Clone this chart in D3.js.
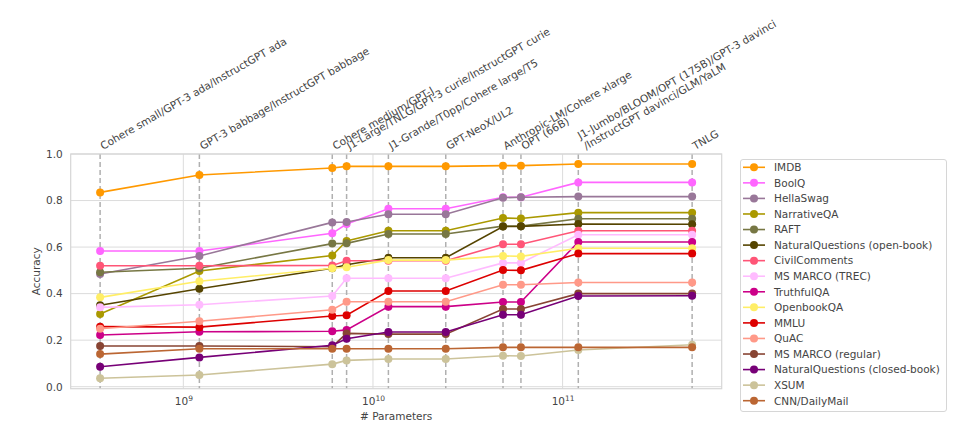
<!DOCTYPE html>
<html>
<head>
<meta charset="utf-8">
<script src="https://cdn.jsdelivr.net/npm/d3@7"></script>
<style>
  html, body { margin: 0; padding: 0; background: #fff; }
  svg { display: block; font-family: "DejaVu Sans", sans-serif; }
</style>
</head>
<body>
<svg id="chart" width="965" height="438"></svg>
<script>
// ---- data ----
const modelSizes = [3.64e8, 1.215e9, 6.1e9, 7.26e9, 1.206e10, 2.42e10, 4.85e10, 6.03e10, 1.21e11, 4.82e11];
const modelLabels = [
  ["Cohere small/GPT-3 ada/InstructGPT ada"],
  ["GPT-3 babbage/InstructGPT babbage"],
  ["Cohere medium/GPT-J"],
  ["J1-Large/TNLG/GPT-3 curie/InstructGPT curie"],
  ["J1-Grande/T0pp/Cohere large/T5"],
  ["GPT-NeoX/UL2"],
  ["Anthropic-LM/Cohere xlarge"],
  ["OPT (66B)"],
  ["J1-Jumbo/BLOOM/OPT (175B)/GPT-3 davinci", "/InstructGPT davinci/GLM/YaLM"],
  ["TNLG"]
];
const seriesNames = ["IMDB", "BoolQ", "HellaSwag", "NarrativeQA", "RAFT", "NaturalQuestions (open-book)",
  "CivilComments", "MS MARCO (TREC)", "TruthfulQA", "OpenbookQA", "MMLU", "QuAC", "MS MARCO (regular)",
  "NaturalQuestions (closed-book)", "XSUM", "CNN/DailyMail"];
const seriesColors = ["#ff9900", "#ff66ff", "#997799", "#aa9900", "#777744", "#554400",
  "#ff5577", "#ffbbff", "#cc0088", "#ffee66", "#dd0000", "#ff9988", "#884433",
  "#770077", "#ccc39a", "#bb6633"];
const imdb        = [0.835, 0.910, 0.940, 0.947, 0.947, 0.947, 0.950, 0.950, 0.957, 0.957];
const boolq       = [0.583, 0.583, 0.659, 0.699, 0.765, 0.765, 0.814, 0.814, 0.878, 0.878];
const hellaswag   = [0.484, 0.562, 0.706, 0.708, 0.741, 0.741, 0.812, 0.814, 0.817, 0.817];
const narrativeqa = [0.312, 0.497, 0.564, 0.626, 0.670, 0.670, 0.725, 0.723, 0.748, 0.748];
const raft        = [0.492, 0.509, 0.615, 0.616, 0.656, 0.656, 0.690, 0.690, 0.722, 0.722];
const nqOpen      = [0.350, 0.421, 0.509, 0.524, 0.554, 0.554, 0.688, 0.689, 0.699, 0.698];
const civil       = [0.520, 0.520, 0.521, 0.541, 0.541, 0.541, 0.612, 0.612, 0.670, 0.670];
const msmarcoTrec = [0.341, 0.352, 0.390, 0.466, 0.466, 0.466, 0.532, 0.532, 0.653, 0.653];
const truthfulqa  = [0.222, 0.236, 0.238, 0.244, 0.344, 0.344, 0.364, 0.364, 0.622, 0.622];
const openbookqa  = [0.384, 0.453, 0.509, 0.513, 0.544, 0.544, 0.562, 0.560, 0.595, 0.595];
const mmlu        = [0.258, 0.256, 0.304, 0.307, 0.411, 0.411, 0.501, 0.500, 0.572, 0.572];
const quac        = [0.249, 0.281, 0.331, 0.365, 0.365, 0.365, 0.438, 0.438, 0.448, 0.448];
const msmarcoReg  = [0.175, 0.175, 0.172, 0.229, 0.226, 0.226, 0.334, 0.334, 0.400, 0.400];
const nqClosed    = [0.086, 0.126, 0.178, 0.206, 0.235, 0.235, 0.309, 0.309, 0.390, 0.391];
const xsum        = [0.036, 0.050, 0.097, 0.113, 0.119, 0.119, 0.133, 0.132, 0.158, 0.180];
const cnn         = [0.140, 0.163, 0.163, 0.163, 0.163, 0.163, 0.169, 0.169, 0.169, 0.169];
const seriesValues = [imdb, boolq, hellaswag, narrativeqa, raft, nqOpen, civil, msmarcoTrec,
  truthfulqa, openbookqa, mmlu, quac, msmarcoReg, nqClosed, xsum, cnn];
const yTicks = [0.0, 0.2, 0.4, 0.6, 0.8, 1.0];
const xTicks = [1e9, 1e10, 1e11];

// ---- layout ----
const svg = d3.select("#chart");
const L = 70.7, R = 721.7, T = 154, B = 388.7;
const x = d3.scaleLog().domain([Math.pow(10, 8.406), Math.pow(10, 11.839)]).range([L, R]);
const y = d3.scaleLinear().domain([-0.0086, 1.0]).range([B, T]);
const textColor = "#444";

// gridlines
const g = svg.append("g");
g.selectAll("line.hg").data(yTicks).enter().append("line")
  .attr("x1", L).attr("x2", R).attr("y1", d => y(d)).attr("y2", d => y(d))
  .attr("stroke", "#dcdcdc").attr("stroke-width", 1);
g.selectAll("line.vg").data(xTicks).enter().append("line")
  .attr("x1", d => x(d)).attr("x2", d => x(d)).attr("y1", T).attr("y2", B)
  .attr("stroke", "#dcdcdc").attr("stroke-width", 1);

// dashed model lines
g.selectAll("line.model").data(modelSizes).enter().append("line")
  .attr("x1", d => x(d)).attr("x2", d => x(d)).attr("y1", T).attr("y2", B)
  .attr("stroke", "#b0b0b0").attr("stroke-width", 1.5).attr("stroke-dasharray", "5,3");

// frame
svg.append("rect").attr("x", L).attr("y", T).attr("width", R - L).attr("height", B - T)
  .attr("fill", "none").attr("stroke", "#d6d6d6").attr("stroke-width", 1.2);

// y axis labels
const yAxis = d3.axisLeft(y).tickValues(yTicks).tickFormat(d3.format(".1f")).tickSize(0).tickPadding(8);
const ya = svg.append("g").attr("transform", `translate(${L},0)`).call(yAxis);
ya.select(".domain").remove();
ya.selectAll("text").attr("font-size", 10.5).attr("fill", textColor).attr("font-family", "DejaVu Sans");

// x axis labels (10^n with superscript)
const xAxis = d3.axisBottom(x).tickValues(xTicks).tickSize(0).tickFormat("");
const xa = svg.append("g").attr("transform", `translate(0,${B})`).call(xAxis);
xa.select(".domain").remove();
xa.selectAll(".tick").each(function(d) {
  const t = d3.select(this).append("text").attr("y", 16.5).attr("text-anchor", "middle")
    .attr("fill", textColor).attr("font-size", 10.5).attr("font-family", "DejaVu Sans");
  t.append("tspan").text("10");
  t.append("tspan").attr("dy", -4.5).attr("font-size", 7.5).text(Math.round(Math.log10(d)));
});

svg.append("text").attr("x", (L + R) / 2).attr("y", 420).attr("text-anchor", "middle")
  .attr("font-size", 10.5).attr("fill", textColor).text("# Parameters");
svg.append("text").attr("transform", `translate(40,${(T + B) / 2}) rotate(-90)`)
  .attr("text-anchor", "middle").attr("font-size", 10.5).attr("fill", textColor).text("Accuracy");

// top model labels
modelLabels.forEach((lines, i) => {
  const dx = lines.length > 1 ? 8 : 3;
  const grp = svg.append("g").attr("transform", `translate(${x(modelSizes[i]) + dx},150) rotate(-30)`);
  lines.forEach((ln, j) => {
    grp.append("text").attr("x", 0).attr("y", -(lines.length - 1 - j) * 12)
      .attr("font-size", 10.5).attr("fill", textColor).text(ln);
  });
});

// series
const lineGen = d3.line().x((d, i) => x(modelSizes[i])).y(d => y(d));
seriesValues.forEach((vals, si) => {
  const sg = svg.append("g");
  sg.append("path").attr("d", lineGen(vals)).attr("fill", "none")
    .attr("stroke", seriesColors[si]).attr("stroke-width", 1.6);
  sg.selectAll("circle").data(vals).enter().append("circle")
    .attr("cx", (d, i) => x(modelSizes[i])).attr("cy", d => y(d)).attr("r", 4)
    .attr("fill", seriesColors[si]);
});

// legend
const lg = svg.append("g");
lg.append("rect").attr("x", 740.5).attr("y", 159.5).attr("width", 206).attr("height", 252)
  .attr("rx", 2.5).attr("fill", "#fff").attr("stroke", "#d6d6d6").attr("stroke-width", 1);
seriesNames.forEach((name, i) => {
  const yy = 167.3 + i * 15.56;
  lg.append("line").attr("x1", 743).attr("x2", 765).attr("y1", yy).attr("y2", yy)
    .attr("stroke", seriesColors[i]).attr("stroke-width", 1.6);
  lg.append("circle").attr("cx", 754).attr("cy", yy).attr("r", 4).attr("fill", seriesColors[i]);
  lg.append("text").attr("x", 774).attr("y", yy + 3.8).attr("font-size", 10.5)
    .attr("fill", textColor).text(name);
});
</script>
</body>
</html>
